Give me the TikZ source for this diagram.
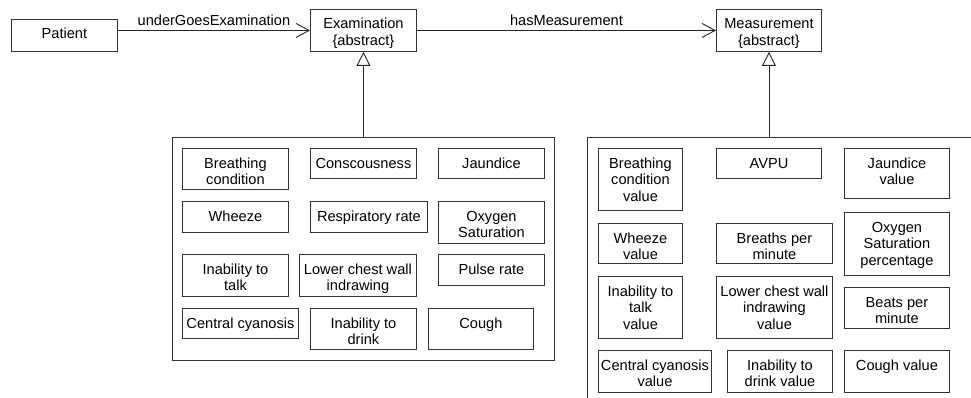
\documentclass[tikz,border=0pt]{standalone}
\usepackage{fontspec}
\setmainfont{Liberation Sans}
\usetikzlibrary{arrows.meta}
\newcommand\diafont{\fontsize{14.6}{16.7}\selectfont}
\tikzset{
  boxs/.style={draw=black!80, line width=0.9pt, inner sep=0pt, rectangle},
  lbl/.style={inner sep=0pt, font=\diafont, anchor=base},
  conn/.style={draw=black!85, line width=0.9pt},
  assoc/.style={conn, -{Straight Barb[length=13pt,width=14pt,line width=0.9pt]}},
  gener/.style={conn, -{Triangle[open,length=14pt,width=14pt,line width=0.9pt,fill=white]}},
}
\newcommand\ubox[6]{%
  \node[boxs, minimum width=#4pt, minimum height=#5pt, anchor=north west] (#1) at (#2,#3) {};
  \node[lbl] (#1-t) at ([yshift=-20pt]#1.north) {\parbox[t]{#4pt}{\centering #6}};
}
\begin{document}
\begin{tikzpicture}[x=1pt,y=-1pt]
\useasboundingbox (0,0) rectangle (971,398);
\clip (0,0) rectangle (971,398);
% top classes
\ubox{patient}{11}{19}{106}{32}{Patient}
\ubox{exam}{310}{9}{106}{42}{Examination\\\{abstract\}}
\ubox{meas}{716}{9}{105}{42}{Measurement\\\{abstract\}}
% containers
\node[boxs, minimum width=382pt, minimum height=223pt, anchor=north west] (lcont) at (172,137) {};
\node[boxs, minimum width=500pt, minimum height=300pt, anchor=north west] (rcont) at (587,137) {};
% left boxes
\ubox{b1}{182}{148}{106}{41}{Breathing\\condition}
\ubox{b2}{310}{148}{106}{30}{Conscousness}
\ubox{b3}{438}{148}{106}{30}{Jaundice}
\ubox{b4}{182}{201}{106}{31}{Wheeze}
\ubox{b5}{310}{201}{117}{31}{Respiratory rate}
\ubox{b6}{438}{201}{106}{42}{Oxygen\\Saturation}
\ubox{b7}{182}{254}{106}{42}{Inability to\\talk}
\ubox{b8}{299}{254}{117}{42}{Lower chest wall\\indrawing}
\ubox{b9}{438}{254}{106}{31}{Pulse rate}
\ubox{b10}{182}{308}{116}{30}{Central cyanosis}
\ubox{b11}{310}{308}{106}{41}{Inability to\\drink}
\ubox{b12}{428}{308}{105}{41}{Cough}
% right boxes
\ubox{r1}{598}{148}{84}{62}{Breathing\\condition\\value}
\ubox{r2}{716}{148}{105}{30}{AVPU}
\ubox{r3}{844}{148}{105}{50}{Jaundice\\value}
\ubox{r4}{598}{223}{84}{40}{Wheeze\\value}
\ubox{r5}{716}{223}{116}{40}{Breaths per\\minute}
\ubox{r6}{844}{212}{105}{63}{Oxygen\\Saturation\\percentage}
\ubox{r7}{598}{276}{84}{62}{Inability to\\talk\\value}
\ubox{r8}{716}{276}{116}{62}{Lower chest wall\\indrawing\\value}
\ubox{r9}{844}{287}{105}{41}{Beats per\\minute}
\ubox{r10}{598}{350}{113}{42}{Central cyanosis\\value}
\ubox{r11}{727}{350}{105}{42}{Inability to\\drink value}
\ubox{r12}{844}{350}{105}{42}{Cough value}
% connectors
\draw[assoc] (patient.east |- exam.west) -- node[lbl, yshift=5pt, anchor=base] (l1) {underGoesExamination} (exam.west);
\draw[assoc] (exam.east) -- node[lbl, yshift=5pt, anchor=base] (l2) {hasMeasurement} (meas.west);
\draw[gener] (lcont.north) -- (exam.south);
\draw[gener] (meas.south |- rcont.north) -- (meas.south);
\end{tikzpicture}
\end{document}
